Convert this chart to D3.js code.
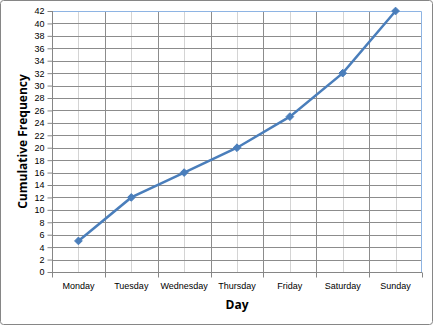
<!DOCTYPE html>
<html lang="en">
<head>
<meta charset="UTF-8">
<title>Cumulative Frequency by Day</title>
<script src="https://cdnjs.cloudflare.com/ajax/libs/d3/7.8.5/d3.min.js"></script>
<style>
    body { margin: 0; background: #ffffff; }
    svg { display: block; font-family: 'Open Sans', 'Liberation Sans', sans-serif; }
    .tick text { font-size: 9px; fill: #000; }
</style>
</head>
<body>
<div id="chart"></div>
<script>
    const days = ["Monday", "Tuesday", "Wednesday", "Thursday", "Friday", "Saturday", "Sunday"];
    const cumFreq = [5, 12, 16, 20, 25, 32, 42];
    const yTicks = d3.range(0, 43, 2);

    const W = 433, H = 325;
    const margin = {top: 11, right: 11, bottom: 53, left: 52};
    const w = W - margin.left - margin.right;
    const h = H - margin.top - margin.bottom;

    const svg = d3.select("#chart").append("svg")
        .attr("width", W)
        .attr("height", H);

    // outer chart frame
    svg.append("rect")
        .attr("x", 0.5).attr("y", 0.5)
        .attr("width", W - 1).attr("height", H - 1)
        .attr("rx", 3)
        .attr("fill", "#fff")
        .attr("stroke", "#868686");

    const g = svg.append("g")
        .attr("transform", `translate(${margin.left},${margin.top})`);

    const x = d3.scaleBand().domain(days).range([0, w]);
    const y = d3.scaleLinear().domain([0, 42]).range([h, 0]);
    const cx = d => x(d) + x.bandwidth() / 2;

    // light gridlines through category centres
    g.selectAll(".vminor").data(days).enter().append("line")
        .attr("x1", d => Math.round(cx(d)) + 0.5)
        .attr("x2", d => Math.round(cx(d)) + 0.5)
        .attr("y1", 0).attr("y2", h)
        .attr("stroke", "#d4d4d4");

    // darker gridlines at category boundaries
    g.selectAll(".vmajor").data(days.slice(1)).enter().append("line")
        .attr("x1", d => Math.round(x(d)) + 0.5)
        .attr("x2", d => Math.round(x(d)) + 0.5)
        .attr("y1", 0).attr("y2", h)
        .attr("stroke", "#8c8c8c");

    // horizontal gridlines
    g.selectAll(".hgrid").data(yTicks.slice(1, -1)).enter().append("line")
        .attr("x1", 0).attr("x2", w)
        .attr("y1", d => Math.round(y(d)) + 0.5)
        .attr("y2", d => Math.round(y(d)) + 0.5)
        .attr("stroke", "#8c8c8c");

    // plot border top / right
    g.append("path")
        .attr("d", `M0,0.5H${w - 0.5}V${h}`)
        .attr("fill", "none")
        .attr("stroke", "#8eb4e3");

    // y axis
    const yAxis = g.append("g")
        .attr("transform", "translate(0.5,0)")
        .call(d3.axisLeft(y).tickValues(yTicks).tickSize(5).tickPadding(3));
    yAxis.selectAll("line, path").attr("stroke", "#868686");
    yAxis.select(".domain").attr("d", `M0,${h}V0`);

    // x axis with ticks on category boundaries
    const xAxis = g.append("g")
        .attr("transform", `translate(0,${Math.round(h) + 0.5})`)
        .call(d3.axisBottom(x).tickSize(0).tickPadding(10));
    xAxis.select(".domain").attr("stroke", "#868686").attr("d", `M0,0H${w}`);
    xAxis.selectAll(".bnd").data(days.concat(["end"])).enter().append("line")
        .attr("x1", (d, i) => Math.round(i < days.length ? x(d) : w) + 0.5)
        .attr("x2", (d, i) => Math.round(i < days.length ? x(d) : w) + 0.5)
        .attr("y1", 0).attr("y2", 5)
        .attr("stroke", "#868686");

    // line + diamond markers
    const pts = days.map((d, i) => [cx(d), y(cumFreq[i])]);
    g.append("path")
        .datum(pts)
        .attr("d", d3.line())
        .attr("fill", "none")
        .attr("stroke", "#4a7ebb")
        .attr("stroke-width", 2.5);

    g.selectAll(".mk").data(pts).enter().append("path")
        .attr("transform", p => `translate(${p[0]},${p[1]})`)
        .attr("d", d3.symbol().type(d3.symbolDiamond2).size(38))
        .attr("fill", "#4a7ebb")
        .attr("stroke", "#4a7ebb");

    // axis titles
    svg.append("text")
        .attr("x", margin.left + w / 2).attr("y", 309)
        .attr("text-anchor", "middle")
        .style("font-size", "12px").style("font-weight", "bold")
        .text("Day");

    svg.append("text")
        .attr("transform", `translate(27,${margin.top + h / 2}) rotate(-90)`)
        .attr("text-anchor", "middle")
        .style("font-size", "12px").style("font-weight", "bold")
        .text("Cumulative Frequency");
</script>
</body>
</html>
